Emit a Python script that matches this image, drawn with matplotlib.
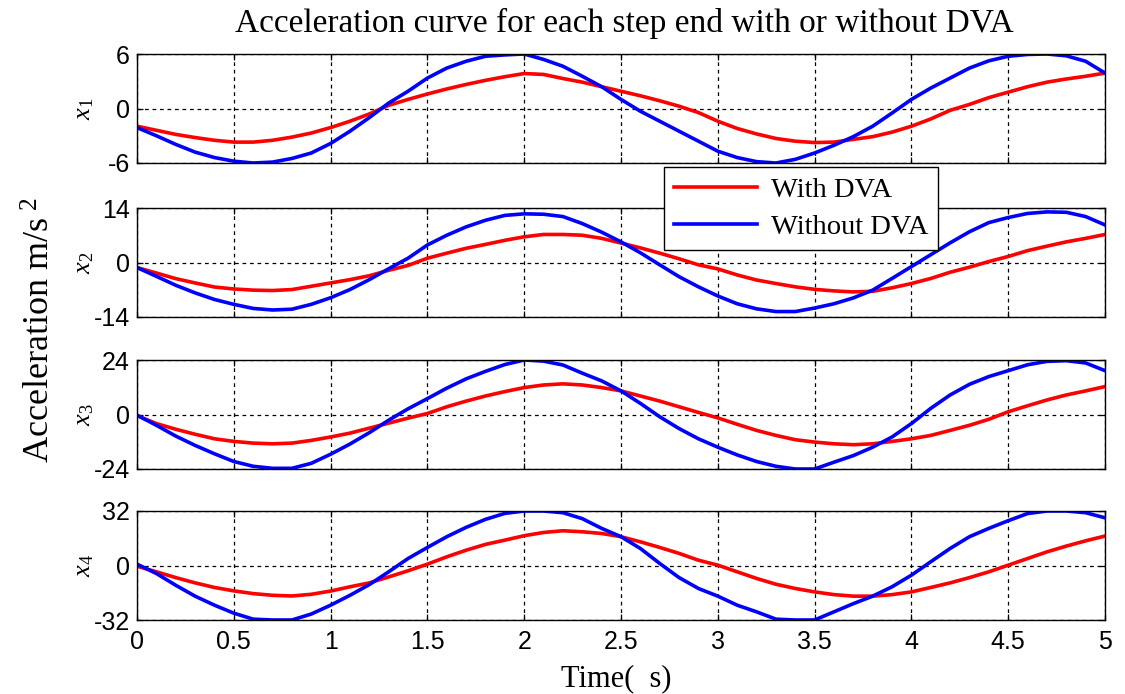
import matplotlib
matplotlib.use('Agg')
import matplotlib.pyplot as plt

plt.rcParams['font.family'] = 'Liberation Sans'
plt.rcParams['mathtext.fontset'] = 'custom'
plt.rcParams['mathtext.rm'] = 'Liberation Serif'
plt.rcParams['mathtext.it'] = 'Liberation Serif:italic'

# time samples (s)
time = [0.0, 0.1, 0.2, 0.3, 0.4, 0.5, 0.6, 0.7, 0.8, 0.9,
        1.0, 1.1, 1.2, 1.3, 1.4, 1.5, 1.6, 1.7, 1.8, 1.9,
        2.0, 2.1, 2.2, 2.3, 2.4, 2.5, 2.6, 2.7, 2.8, 2.9,
        3.0, 3.1, 3.2, 3.3, 3.4, 3.5, 3.6, 3.7, 3.8, 3.9,
        4.0, 4.1, 4.2, 4.3, 4.4, 4.5, 4.6, 4.7, 4.8, 4.9, 5.0]

# step end x1
x1_dva = [-1.95, -2.4, -2.85, -3.2, -3.5, -3.7, -3.7, -3.5, -3.15, -2.7,
          -2.1, -1.4, -0.6, 0.35, 1.0, 1.6, 2.15, 2.65, 3.1, 3.5,
          3.85, 3.75, 3.3, 2.9, 2.4, 1.9, 1.4, 0.85, 0.25, -0.45,
          -1.4, -2.2, -2.8, -3.3, -3.6, -3.75, -3.7, -3.4, -3.1, -2.6,
          -1.95, -1.15, -0.2, 0.45, 1.2, 1.8, 2.4, 2.9, 3.25, 3.55, 3.9]
x1_nodva = [-2.1, -3.0, -3.95, -4.8, -5.4, -5.8, -6.0, -5.9, -5.5, -4.9,
            -3.85, -2.5, -1.0, 0.6, 1.9, 3.35, 4.45, 5.2, 5.75, 5.9,
            6.0, 5.4, 4.65, 3.55, 2.4, 1.0, -0.3, -1.4, -2.5, -3.6,
            -4.7, -5.4, -5.85, -6.0, -5.6, -4.9, -4.05, -3.1, -1.95, -0.5,
            1.0, 2.25, 3.35, 4.45, 5.25, 5.75, 5.95, 6.0, 5.8, 5.2, 3.9]

# step end x2
x2_dva = [-1.3, -2.7, -4.15, -5.25, -6.3, -6.8, -7.1, -7.2, -6.95, -6.1,
          -5.25, -4.4, -3.4, -2.0, -0.75, 1.1, 2.4, 3.65, 4.65, 5.7,
          6.6, 7.2, 7.2, 7.0, 6.2, 5.0, 3.75, 2.4, 0.95, -0.6,
          -1.65, -3.2, -4.5, -5.4, -6.25, -6.9, -7.3, -7.55, -7.4, -6.5,
          -5.4, -4.1, -2.5, -1.2, 0.25, 1.55, 3.05, 4.2, 5.3, 6.2, 7.2]
x2_nodva = [-1.3, -3.55, -5.85, -7.8, -9.5, -10.75, -11.8, -12.2, -12.0, -10.75,
            -9.05, -6.95, -4.4, -1.6, 1.1, 4.5, 7.0, 9.15, 10.85, 12.1,
            12.5, 12.4, 11.8, 10.0, 7.8, 5.3, 2.5, -0.6, -3.65, -6.25,
            -8.6, -10.6, -11.9, -12.6, -12.6, -11.7, -10.6, -9.1, -7.1, -4.1,
            -1.05, 2.0, 5.05, 7.9, 10.25, 11.55, 12.6, 13.0, 12.9, 11.8, 9.65]

# step end x3
x3_dva = [-0.5, -4.0, -6.5, -8.7, -10.7, -11.85, -12.6, -12.9, -12.6, -11.4,
          -9.9, -8.2, -6.0, -3.8, -1.6, 0.45, 3.4, 5.9, 8.15, 10.1,
          11.85, 13.0, 13.5, 13.0, 11.85, 10.4, 8.15, 5.9, 3.4, 0.9,
          -1.5, -4.3, -7.0, -9.2, -11.1, -12.15, -12.9, -13.3, -12.9, -11.85,
          -10.7, -9.2, -7.0, -4.75, -2.1, 1.2, 3.85, 6.4, 8.6, 10.4, 12.3]
x3_nodva = [-0.3, -4.75, -9.5, -13.6, -17.3, -20.7, -22.8, -23.7, -23.7, -21.5,
            -17.5, -13.0, -8.0, -2.5, 2.5, 7.0, 11.6, 15.7, 19.0, 22.0,
            24.0, 23.5, 21.8, 18.2, 14.8, 10.4, 4.9, -1.0, -6.2, -10.7,
            -14.4, -17.8, -20.7, -22.8, -24.0, -24.0, -21.0, -18.1, -14.4, -9.9,
            -4.0, 2.7, 8.6, 13.3, 16.7, 19.3, 21.9, 23.4, 23.7, 22.7, 19.3]

# step end x4
x4_dva = [-0.4, -3.7, -7.1, -10.2, -12.9, -14.9, -16.5, -17.5, -17.9, -16.9,
          -15.0, -12.5, -10.2, -6.7, -3.1, 0.8, 5.1, 9.0, 12.4, 14.9,
          17.5, 19.4, 20.4, 19.8, 18.8, 16.9, 13.9, 10.6, 7.1, 3.1,
          0.2, -3.7, -7.6, -11.0, -13.5, -15.5, -17.1, -18.0, -18.0, -17.1,
          -15.5, -12.9, -10.2, -7.1, -3.7, 0.2, 4.1, 8.0, 11.4, 14.5, 17.3]
x4_nodva = [0.8, -4.7, -11.6, -18.0, -23.3, -28.0, -31.5, -32.0, -32.0, -28.5,
            -23.3, -17.5, -11.2, -3.7, 4.1, 10.6, 16.9, 22.4, 27.1, 30.6,
            32.0, 32.0, 31.0, 27.5, 21.8, 16.9, 10.0, 1.2, -7.1, -13.5,
            -18.0, -23.3, -27.2, -31.5, -32.0, -32.0, -27.2, -22.4, -18.0, -12.5,
            -5.7, 2.2, 10.0, 16.9, 21.8, 26.3, 30.5, 32.0, 32.0, 31.0, 28.0]

limits = [6, 14, 24, 32]
xticks = [0, 0.5, 1, 1.5, 2, 2.5, 3, 3.5, 4, 4.5, 5]
xticklabels = ['0', '0.5', '1', '1.5', '2', '2.5', '3', '3.5', '4', '4.5', '5']
with_dva = [x1_dva, x2_dva, x3_dva, x4_dva]
without_dva = [x1_nodva, x2_nodva, x3_nodva, x4_nodva]

W, H = 1125, 694
fig = plt.figure(figsize=(W / 100, H / 100), dpi=100)

tops = [54, 208, 360, 511]
ax_h = 109
left, right = 137, 1105
serif = 'Liberation Serif'

for i in range(4):
    ax = fig.add_axes([left / W, (H - tops[i] - ax_h) / H, (right - left) / W, ax_h / H])
    l1, = ax.plot(time, with_dva[i], color=(1, 0, 0), lw=2.6, label='With DVA')
    l2, = ax.plot(time, without_dva[i], color=(0, 0, 1), lw=2.6, label='Without DVA')
    lim = limits[i]
    ax.set_xlim(0, 5)
    ax.set_ylim(-lim, lim)
    ax.set_yticks([-lim, 0, lim])
    ax.set_yticklabels([str(-lim), '0', str(lim)])
    ax.set_xticks(xticks)
    if i == 3:
        ax.set_xticklabels(xticklabels)
    else:
        ax.set_xticklabels([])
    ax.grid(True, color='k', linestyle=(0, (3, 3)), linewidth=0.9)
    ax.tick_params(direction='in', length=4, width=0.9, top=True, right=True,
                   labelsize=18, pad=5)
    ax.tick_params(axis='x', pad=7)
    for s in ax.spines.values():
        s.set_linewidth(1.0)
    ax.set_ylabel('$x_{%d}$' % (i + 1), fontsize=19)
    ax.yaxis.set_label_coords(-0.042, 0.5)

fig.text(0.555, 0.966, 'Acceleration curve for each step end with or without DVA',
         ha='center', va='center', fontsize=24, family=serif)
fig.text(0.037, 0.524, 'Acceleration m/s$^{\\ 2}$', rotation=90,
         ha='center', va='center', fontsize=26, family=serif)
fig.text(0.548, 0.022, 'Time(  s)', ha='center', va='center', fontsize=22, family=serif)

fig.legend([l1, l2], ['With DVA', 'Without DVA'], loc='upper left',
           bbox_to_anchor=(664 / W, (H - 167) / H), prop={'family': serif, 'size': 20.5},
           frameon=True, fancybox=False, framealpha=1, edgecolor='k',
           handlelength=2.9, borderpad=0.35, labelspacing=0.4, handletextpad=0.5,
           borderaxespad=0)

fig.savefig('out.png', dpi=100)
